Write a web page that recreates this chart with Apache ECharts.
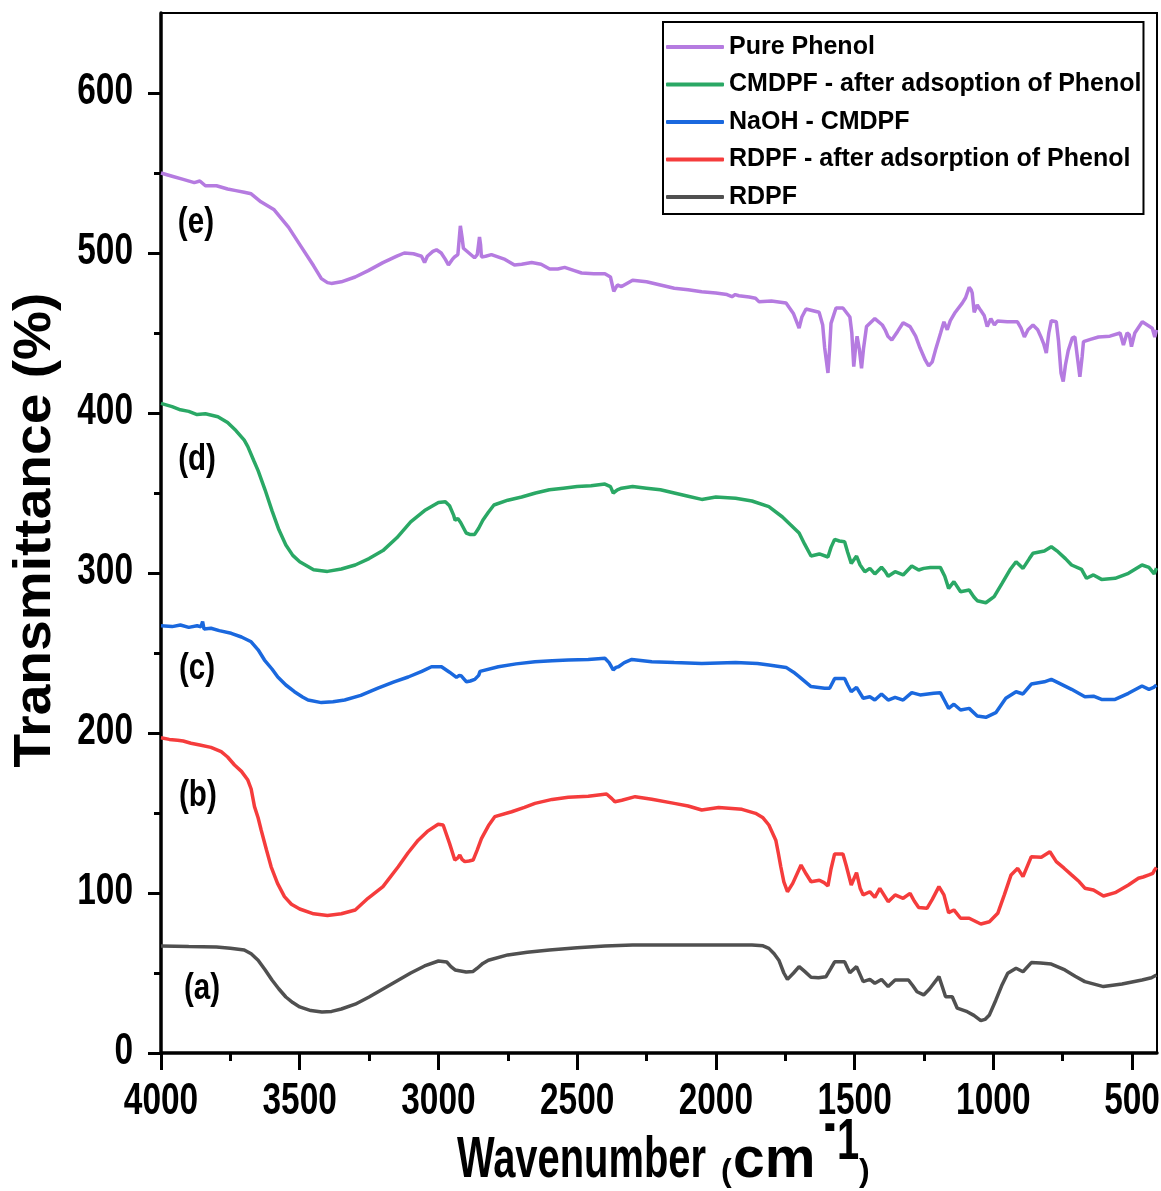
<!DOCTYPE html>
<html>
<head>
<meta charset="utf-8">
<script src="https://cdn.jsdelivr.net/npm/echarts@6/dist/echarts.min.js"></script>
<style>
html,body{margin:0;padding:0;background:#fff;}
#chart{width:1161px;height:1191px;}
</style>
</head>
<body>
<div id="chart"></div>
<script>
// ---- data: [wavenumber (cm-1), transmittance (%)] ----
const purePhenol = [[4000,550],[3960,548],[3920,546],[3880,544],[3860,545],[3840,542],[3800,542],[3760,540],[3730,539],[3700,538],[3675,537],[3640,532],[3592,527],[3540,516],[3495,504],[3450,492],[3422,484],[3400,481.5],[3386,481],[3350,482],[3300,485],[3253,489],[3200,494],[3150,498],[3123,500],[3090,499.5],[3061,498],[3050,494],[3040,498],[3020,501],[3007,502],[2990,500],[2975,496],[2964,492.5],[2950,496],[2942,497.5],[2930,499],[2921,517],[2915,510],[2910,503],[2890,500],[2870,497],[2860,499],[2852,510],[2848,505],[2845,497.5],[2830,498],[2809,499],[2760,496],[2726,492.5],[2700,493],[2664,494],[2630,493],[2599,490],[2570,490],[2545,491],[2510,489],[2484,487.5],[2440,487],[2400,487],[2380,485],[2368,476],[2355,480],[2340,479],[2300,483],[2250,482],[2200,480],[2150,478],[2100,477],[2051,475.8],[2000,475],[1960,474],[1942,472.7],[1930,474],[1917,473.3],[1880,472.5],[1857,471.7],[1845,469.6],[1800,470],[1747,468.7],[1720,462],[1700,453],[1690,460],[1675,465],[1628,463],[1615,455],[1608,441],[1596,425],[1590,440],[1585,456],[1567,465.6],[1542,465.6],[1517,460],[1510,450],[1503,429],[1497,440],[1491,448],[1483,440],[1475,428],[1468,440],[1457,454],[1427,459],[1400,455],[1390,452],[1380,448],[1366,445.6],[1345,451],[1325,456.4],[1300,454],[1280,448],[1264,440.6],[1245,433],[1233,429.4],[1220,432],[1209,439],[1190,450],[1178,457],[1166,452],[1155,457.7],[1137,463],[1112,468.7],[1100,472],[1087,478.5],[1080,477],[1076,475],[1069,463],[1058,467.5],[1045,464],[1033,461],[1022,454],[1009,459],[996,455],[985,457.5],[950,457],[913,457],[900,453],[888,447.5],[875,452],[857,455],[840,452],[827,447],[818,443],[809,437.5],[800,450],[791,457.7],[773,457],[765,445],[756,425],[748,419.6],[740,430],[730,439],[715,447],[706,447.5],[697,435],[688,422.7],[680,435],[675,444.6],[650,446],[621,447.5],[580,448],[543,450],[531,442.5],[518,450],[510,449],[502,441.5],[490,450],[463,457],[445,455],[427,453],[418,447.5],[412,452]];

const cmdpfAfter = [[4000,406],[3960,404],[3930,402],[3900,401],[3870,399],[3840,399.5],[3795,397.7],[3760,394],[3730,389],[3700,383],[3687,379],[3665,370],[3650,364],[3625,352],[3600,339],[3575,327],[3550,317.5],[3525,311],[3500,307],[3450,302],[3400,301],[3350,302.5],[3300,305],[3250,309],[3200,314],[3150,322],[3100,332],[3050,339],[3000,344],[2975,344.5],[2960,342],[2945,336],[2940,333],[2930,334],[2920,331.6],[2900,325],[2885,324],[2870,324],[2855,328],[2840,333],[2820,338],[2800,342.5],[2750,345.5],[2700,347.5],[2650,350],[2600,352],[2550,353],[2500,354],[2450,354.5],[2400,355.6],[2380,354],[2370,350],[2355,352],[2340,353],[2300,354],[2250,353],[2200,352],[2150,350],[2100,348],[2051,346],[2000,347.5],[1929,346.7],[1870,345],[1809,341.5],[1760,335],[1730,330],[1700,325],[1680,318],[1657,310.6],[1627,311.9],[1596,310],[1585,316],[1572,321],[1555,320],[1536,319.6],[1525,313],[1512,306],[1493,310.6],[1480,305],[1463,300.8],[1445,302.9],[1427,299.4],[1403,303.6],[1390,301],[1379,298],[1354,300.8],[1325,298.8],[1294,304.4],[1269,301.9],[1251,302.9],[1227,303.5],[1191,303.5],[1175,298],[1161,290.4],[1142,294.6],[1118,288.3],[1087,289.4],[1070,285],[1058,282.7],[1027,281.4],[997,285.2],[968,293.7],[940,302],[918,307],[893,302.9],[870,309],[857,312.3],[816,313.7],[791,316.4],[767,313.3],[740,309],[718,305],[682,302.3],[664,296.7],[639,298.8],[610,296],[561,296.7],[513,299.8],[464,305],[439,303.5],[420,299.4],[412,303]];

const naohCmdpf = [[4000,267],[3960,266.5],[3930,267.5],[3900,266],[3870,267],[3856,266.4],[3850,269.6],[3845,265],[3820,265.5],[3790,264],[3747,262.3],[3710,260],[3675,257],[3650,252],[3627,245.6],[3600,240],[3579,235],[3550,230],[3519,225.8],[3490,222.5],[3470,220.6],[3422,219],[3380,219.5],[3338,220.6],[3280,223.5],[3218,228],[3160,232],[3109,235],[3060,238.5],[3025,241.4],[2989,241.4],[2960,238],[2935,234.8],[2925,236],[2917,235.6],[2899,232],[2885,232.5],[2869,233.5],[2855,236],[2850,238.5],[2845,238.3],[2784,241.4],[2720,243.2],[2652,244.6],[2590,245.2],[2532,245.6],[2460,246],[2400,246.7],[2385,244],[2370,239.4],[2360,241],[2351,241.4],[2330,244],[2303,246],[2231,244.6],[2150,244],[2051,243.5],[1929,244],[1850,243.5],[1809,242.5],[1747,241],[1720,238],[1700,235.2],[1657,229],[1608,228],[1590,228],[1572,234],[1536,234],[1525,230],[1512,225.8],[1493,228.5],[1469,221.7],[1445,222.7],[1427,220.6],[1403,224.4],[1379,220.6],[1354,222.3],[1325,220.6],[1294,225.2],[1264,223.8],[1215,224.8],[1191,225.2],[1175,220],[1161,215.4],[1142,218],[1118,214.4],[1087,215.4],[1058,210.6],[1027,209.8],[991,212.7],[955,221.7],[918,225.8],[893,224.4],[863,230.6],[816,232],[791,233.5],[767,231.5],[718,227.3],[670,222.7],[639,223],[610,221],[561,221],[513,224.8],[464,229.4],[439,227.3],[422,228.5],[412,230]];

const rdpfAfter = [[4000,197],[3970,196],[3940,195.5],[3920,195],[3892,193.6],[3860,192.5],[3820,191],[3783,188.3],[3760,185],[3735,180],[3710,176],[3687,170.6],[3675,165],[3663,154],[3650,147],[3639,139.4],[3620,127],[3603,116.4],[3580,106],[3555,97.7],[3530,93],[3500,90],[3450,87],[3400,86],[3350,87],[3300,89.4],[3254,96.7],[3200,104],[3145,116.4],[3110,125],[3073,133],[3040,138.5],[3001,143],[2983,142.5],[2960,131],[2941,120.6],[2930,122],[2923,123.8],[2915,121],[2905,119.6],[2890,120],[2875,120.6],[2860,127],[2845,134],[2820,142],[2797,147.7],[2736,150.8],[2690,153.5],[2652,156],[2590,158.5],[2532,159.8],[2460,160.5],[2394,161.9],[2375,159],[2364,157],[2339,158],[2291,160.2],[2231,158.6],[2150,156],[2100,154.4],[2051,151.9],[1990,153.5],[1906,152.3],[1857,149.8],[1830,147],[1809,142.5],[1784,133],[1775,125],[1766,116.4],[1755,107],[1742,100.8],[1735,101.5],[1723,106],[1693,117.5],[1675,112],[1657,107],[1627,108],[1610,106.5],[1596,104.4],[1585,115],[1572,124.4],[1542,124.4],[1530,117],[1512,105],[1493,112.7],[1480,103],[1469,98.8],[1445,100.8],[1427,97.3],[1409,102.9],[1379,94.6],[1354,98.8],[1325,96.7],[1300,99.8],[1285,95],[1269,91],[1239,90.4],[1220,96],[1196,104],[1178,98.8],[1161,87.7],[1142,89.4],[1118,84.2],[1087,84.2],[1045,80.6],[1014,82],[984,87.3],[960,99],[936,111.3],[912,115.4],[893,110.2],[863,122.7],[827,122.3],[796,125.8],[773,119.6],[745,115.5],[718,111.3],[690,107],[670,103],[639,101.9],[603,98.1],[561,100.2],[513,105],[477,109.2],[460,110],[439,111.3],[425,112.3],[420,114],[412,116]];

const rdpf = [[4000,66.9],[3900,66.5],[3800,66.3],[3750,65.5],[3700,64.4],[3675,62],[3650,58],[3625,52],[3600,45.6],[3575,40],[3550,35],[3525,31.5],[3500,28.8],[3460,26.5],[3420,25.6],[3385,26],[3350,27.5],[3300,30.5],[3250,35],[3200,40],[3150,45],[3100,50],[3050,54.4],[3000,57.5],[2970,56.9],[2955,54],[2940,51.9],[2900,50.6],[2875,51],[2860,53],[2840,56],[2820,58],[2750,61.3],[2680,63],[2600,64.4],[2500,65.8],[2400,66.9],[2300,67.5],[2200,67.5],[2051,67.5],[1870,67.5],[1830,67],[1809,65.4],[1790,62],[1773,58],[1755,50],[1742,46],[1720,50],[1700,54],[1680,51],[1657,47.3],[1630,47],[1603,47.7],[1585,53],[1572,57],[1536,57],[1525,53],[1517,50.2],[1493,54],[1469,44.6],[1445,46],[1427,43.6],[1403,46],[1379,41.5],[1354,45.6],[1306,45.6],[1290,42],[1275,38.3],[1251,36.3],[1230,40],[1196,47.7],[1185,42],[1172,35.2],[1148,35.2],[1130,28],[1094,25.8],[1070,23.5],[1045,20.2],[1030,21],[1014,23.8],[991,33],[970,42],[948,49.8],[918,53],[893,50.8],[863,56.5],[830,56.2],[791,55.6],[742,51.9],[705,48],[670,44.6],[603,41.5],[536,43.1],[464,45.6],[430,47],[412,48.8]];

const seriesNames = ['Pure Phenol','CMDPF - after adsoption of Phenol','NaOH - CMDPF','RDPF - after adsorption of Phenol','RDPF'];
const curveLabels = [[3874,519,'(e)'],[3870,371,'(d)'],[3870,240,'(c)'],[3867,161,'(b)'],[3852,40,'(a)']];
const xMajorTicks = [4000,3500,3000,2500,2000,1500,1000,500];
const xMinorTicks = [3750,3250,2750,2250,1750,1250,750];
const yMajorTicks = [0,100,200,300,400,500,600];
const yMinorTicks = [50,150,250,350,450,550];

const SANS = '"Liberation Sans",Arial,Helvetica,sans-serif';
const colors = ['#b57be0','#2aa865','#1a68de','#f53c3c','#505050'];
const dataSets = [purePhenol, cmdpfAfter, naohCmdpf, rdpfAfter, rdpf];

const chart = echarts.init(document.getElementById('chart'));
const gridRect = {left:161, right:4, top:13, bottom:138, containLabel:false, outerBoundsMode:'none'};
const option = {
  animation:false,
  backgroundColor:'#fff',
  grid:[
    Object.assign({show:true, borderColor:'#000', borderWidth:2, backgroundColor:'transparent'}, gridRect),
    Object.assign({show:false}, gridRect)
  ],
  xAxis:[
    {type:'value', gridIndex:0, min:410, max:4000, inverse:true, position:'bottom',
     axisLine:{show:true, onZero:false, lineStyle:{color:'#000', width:3.5}},
     axisTick:{show:true, customValues:xMajorTicks, length:17, lineStyle:{color:'#000', width:3}},
     axisLabel:{show:false}, splitLine:{show:false}},
    {type:'value', gridIndex:1, min:410, max:4000, inverse:true, position:'bottom',
     axisLine:{show:false},
     axisTick:{show:true, customValues:xMinorTicks, length:8, lineStyle:{color:'#000', width:3}},
     axisLabel:{show:false}, splitLine:{show:false}}
  ],
  yAxis:[
    {type:'value', gridIndex:0, min:0, max:650, position:'left',
     axisLine:{show:true, onZero:false, lineStyle:{color:'#000', width:3.5}},
     axisTick:{show:true, customValues:yMajorTicks, length:13, lineStyle:{color:'#000', width:3}},
     axisLabel:{show:false}, splitLine:{show:false}},
    {type:'value', gridIndex:1, min:0, max:650, position:'left',
     axisLine:{show:false},
     axisTick:{show:true, customValues:yMinorTicks, length:7, lineStyle:{color:'#000', width:3}},
     axisLabel:{show:false}, splitLine:{show:false}}
  ],
  legend:{
    data:seriesNames, orient:'vertical', left:663, top:22,
    padding:[12,2,4,3], itemGap:11.5, itemWidth:58, itemHeight:4,
    borderColor:'#000', borderWidth:2, backgroundColor:'#fff',
    icon:'roundRect',
    textStyle:{color:'#000', fontSize:25, fontWeight:'bold', fontFamily:SANS, lineHeight:26},
    selectedMode:false
  },
  series: dataSets.map((d,i)=>({
    name:seriesNames[i], type:'line', xAxisIndex:0, yAxisIndex:0,
    data:d, showSymbol:false, symbol:'none', smooth:false,
    lineStyle:{color:colors[i], width:3.5}, itemStyle:{color:colors[i]},
    z: 2+i
  }))
};
chart.setOption(option);

// ---- texts positioned through the axes' own scales ----
const g = [];
xMajorTicks.forEach(v=>{
  const px = chart.convertToPixel({xAxisIndex:0}, v);
  g.push({type:'text', x:px, y:1102, scaleX:0.76, style:{text:String(v), fill:'#000', font:'bold 44px '+SANS, align:'center', verticalAlign:'middle'}});
});
yMajorTicks.forEach(v=>{
  const py = chart.convertToPixel({yAxisIndex:0}, v);
  g.push({type:'text', x:133, y:py-1, scaleX:0.76, style:{text:String(v), fill:'#000', font:'bold 44px '+SANS, align:'right', verticalAlign:'middle'}});
});
curveLabels.forEach(l=>{
  const p = chart.convertToPixel({gridIndex:0}, [l[0], l[1]]);
  g.push({type:'text', x:p[0], y:p[1], scaleX:0.8, style:{text:l[2], fill:'#000', font:'bold 37px '+SANS, align:'center', verticalAlign:'middle'}});
});
g.push(
  {type:'text', x:36, y:530, rotation:Math.PI/2, scaleX:1.06, style:{text:'Transmittance (%)', fill:'#000', font:'bold 52px '+SANS, align:'center', verticalAlign:'middle'}},
  {type:'text', x:457, y:1161, scaleX:0.70, style:{text:'Wavenumber', fill:'#000', font:'bold 57px '+SANS, align:'left', verticalAlign:'middle'}},
  {type:'text', x:721, y:1172, style:{text:'(', fill:'#000', font:'bold 32px '+SANS, align:'left', verticalAlign:'middle'}},
  {type:'text', x:733, y:1161, scaleX:1.0, style:{text:'cm', fill:'#000', font:'bold 57px '+SANS, align:'left', verticalAlign:'middle'}},
  {type:'text', x:824, y:1126, scaleX:0.55, style:{text:'-', fill:'#000', font:'bold 64px '+SANS, align:'left', verticalAlign:'middle'}},
  {type:'text', x:837, y:1143, scaleX:0.7, style:{text:'1', fill:'#000', font:'bold 57px '+SANS, align:'left', verticalAlign:'middle'}},
  {type:'text', x:859, y:1172, style:{text:')', fill:'#000', font:'bold 32px '+SANS, align:'left', verticalAlign:'middle'}}
);
chart.setOption({graphic:g});
</script>
</body>
</html>
